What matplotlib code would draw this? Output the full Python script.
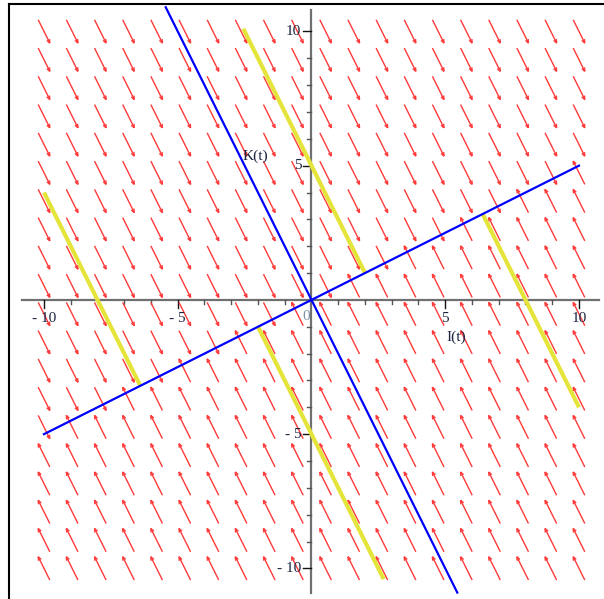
import numpy as np
import matplotlib.pyplot as plt
from matplotlib.collections import LineCollection
from matplotlib.lines import Line2D

# Sistema linear: I' = a*I + b*K ; K' = c*I + d*K
sys_a, sys_b = -1.0, 2.0
sys_c, sys_d = 2.0, -4.0

# grade do campo de direcoes (20 x 20, como no Maple)
grid_I = np.linspace(-10, 10, 20)
grid_K = np.linspace(-10, 10, 20)

# retas invariantes (azul)
eig_lines = [
    ([-5.45, 5.45], [10.9, -10.9]),
    ([-10.0, 10.0], [-5.0, 5.0]),
]

# trajetorias (amarelo): inicio e fim
traj_I = [[-10.0, -6.4], [-2.55, 2.0], [-2.0, 2.7], [6.4, 10.0]]
traj_K = [[4.0, -3.2], [10.1, 1.0], [-1.0, -10.4], [3.2, -4.0]]

x_ticks = [-10, -5, 5, 10]
y_ticks = [-10, -5, 5, 10]

fig = plt.figure(figsize=(6.04, 5.99), dpi=100)
ax = fig.add_axes([0, 0, 1, 1])
ax.set_xlim(-11.645, 10.935)
ax.set_ylim(-11.14, 11.17)
ax.axis('off')

px = 1 / 26.75  # tamanho de um pixel em unidades de dados

# --- campo de direcoes ---
arrow_len = 0.97
head_len = 0.15
head_ang = np.radians(22)
segs = []
for xi in grid_I:
    for yk in grid_K:
        u = sys_a * xi + sys_b * yk
        v = sys_c * xi + sys_d * yk
        n = np.hypot(u, v)
        if n == 0:
            continue
        u, v = u / n, v / n
        x0, y0 = xi - u * arrow_len / 2, yk - v * arrow_len / 2
        x1, y1 = xi + u * arrow_len / 2, yk + v * arrow_len / 2
        segs.append([(x0, y0), (x1, y1)])
        ang = np.arctan2(v, u) + np.pi
        for s in (-1, 1):
            a = ang + s * head_ang
            segs.append([(x1, y1), (x1 + head_len * np.cos(a), y1 + head_len * np.sin(a))])
ax.add_collection(LineCollection(segs, colors='#ff3a3a', linewidths=1.0, zorder=2))

# --- eixos estilo Maple ---
font = dict(family='Liberation Serif', fontsize=11, color='#1c2440')
ax.plot([-10.83, 10.75], [0, 0], color='#707070', lw=1.6, zorder=1)
ax.plot([0, 0], [-10.9, 10.8], color='#707070', lw=1.6, zorder=1)
for t in range(-10, 11):
    if t == 0:
        continue
    L = 8 * px if t % 5 == 0 else 4 * px
    c = '#111111' if t % 5 == 0 else '#555555'
    ax.plot([t, t], [0, -L], color=c, lw=1.0, zorder=1)
    ax.plot([0, -L], [t, t], color=c, lw=1.0, zorder=1)

for t in x_ticks:
    lbl = str(t).replace('-', '- ')
    ax.text(t, -0.7, lbl, ha='center', va='center', **font)
for t in y_ticks:
    lbl = str(t).replace('-', '- ')
    ax.text(-0.38, t, lbl, ha='right', va='center', **font)
ax.text(-0.2, -0.6, '0', ha='center', va='center', family='Liberation Serif',
        fontsize=11, color='#7f93a8')

ax.text(5.4, -1.38, 'I(t)', ha='center', va='center', **font)
ax.text(-2.1, 5.36, 'K(t)', ha='center', va='center', **font)

# --- retas e trajetorias ---
for xs, ys in eig_lines:
    ax.plot(xs, ys, color='#0000ff', lw=1.6, zorder=4)
for xs, ys in zip(traj_I, traj_K):
    ax.plot(xs, ys, color='#e4e43a', lw=3.0, zorder=3, solid_capstyle='butt')

# moldura (esquerda e topo)
fig.add_artist(Line2D([9.3 / 604, 9.3 / 604], [0, 1 - 4.3 / 599], color='black', lw=1.5))
fig.add_artist(Line2D([9.3 / 604, 1], [1 - 4.3 / 599, 1 - 4.3 / 599], color='black', lw=1.5))

fig.savefig('out.png', dpi=100)
